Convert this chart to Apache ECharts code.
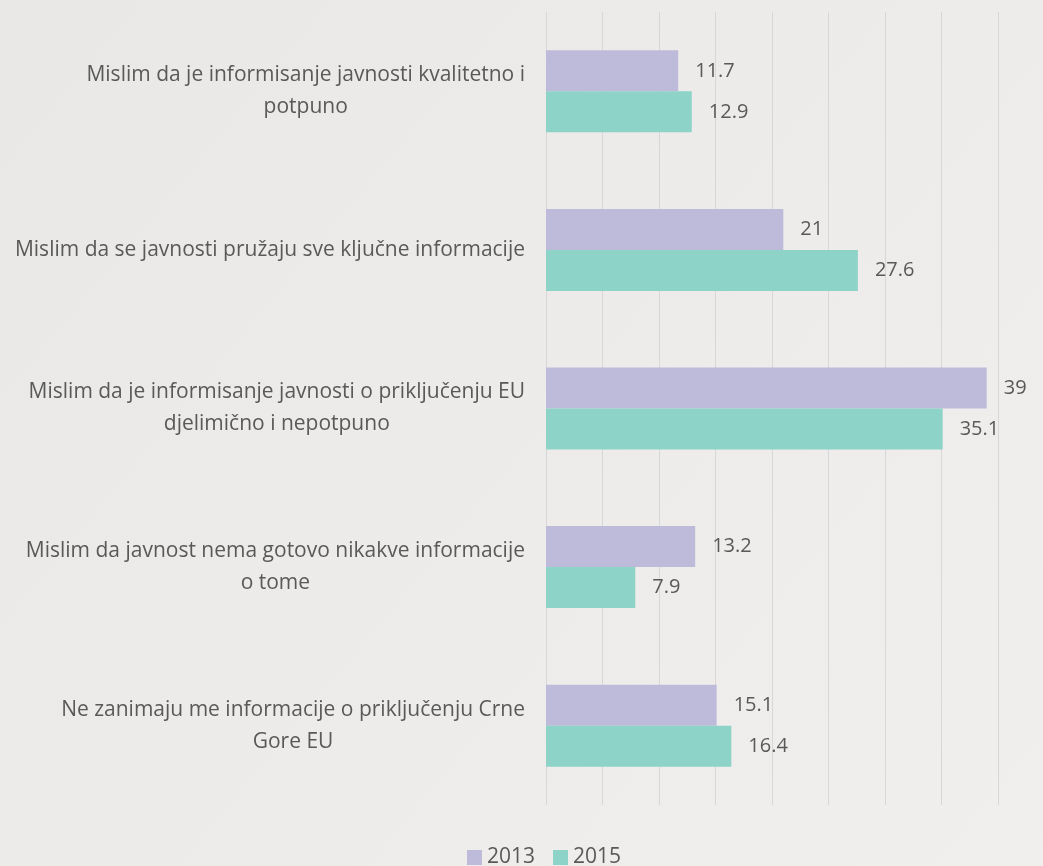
<!DOCTYPE html>
<html>
<head>
<meta charset="utf-8">
<script src="https://cdn.jsdelivr.net/npm/echarts@6/dist/echarts.min.js"></script>
<style>
  html, body { margin: 0; padding: 0; }
  #chart { width: 1043px; height: 866px; }
</style>
</head>
<body>
<div id="chart"></div>
<script>
var categories = [
  'Mislim da je informisanje javnosti kvalitetno i\npotpuno',
  'Mislim da se javnosti pružaju sve ključne informacije',
  'Mislim da je informisanje javnosti o priključenju EU\ndjelimično i nepotpuno',
  'Mislim da javnost nema gotovo nikakve informacije\no tome',
  'Ne zanimaju me informacije o priključenju Crne\nGore EU'
];
var values2013 = [11.7, 21, 39, 13.2, 15.1];
var values2015 = [12.9, 27.6, 35.1, 7.9, 16.4];

var textColor = '#595959';
var fontName = 'Open Sans';

var chart = echarts.init(document.getElementById('chart'));

var option = {
  backgroundColor: {
    type: 'linear', x: 0, y: 0, x2: 1, y2: 1,
    colorStops: [
      { offset: 0, color: '#e9e8e7' },
      { offset: 1, color: '#f0efee' }
    ]
  },
  animation: false,
  textStyle: { fontFamily: fontName },
  grid: { left: 546, right: 45, top: 12, bottom: 61 },
  legend: {
    top: 842,
    left: 462,
    itemWidth: 15,
    itemHeight: 15,
    itemGap: 18,
    icon: 'rect',
    textStyle: { color: textColor, fontSize: 21, fontFamily: fontName },
    data: ['2013', '2015']
  },
  xAxis: {
    type: 'value',
    min: 0,
    max: 40,
    interval: 5,
    axisLabel: { show: false },
    axisLine: { show: false },
    axisTick: { show: false },
    splitLine: { lineStyle: { color: '#d7d7d7', width: 1 } }
  },
  yAxis: {
    type: 'category',
    inverse: true,
    data: categories,
    axisLine: { show: false },
    axisTick: { show: false },
    axisLabel: {
      margin: 21,
      align: 'right',
      color: textColor,
      fontSize: 21,
      fontFamily: fontName,
      lineHeight: 32,
      formatter: function (v) {
        return v.split('\n').map(function (l) { return '{c|' + l + '}'; }).join('\n');
      },
      rich: {
        c: { align: 'center', color: textColor, fontSize: 21, fontFamily: fontName, lineHeight: 32 }
      }
    }
  },
  series: [
    {
      name: '2013',
      type: 'bar',
      data: values2013,
      barWidth: 41,
      barGap: '0%',
      itemStyle: { color: '#bebada' },
      label: { show: true, position: 'right', distance: 17, color: textColor, fontSize: 20, fontFamily: fontName }
    },
    {
      name: '2015',
      type: 'bar',
      data: values2015,
      barWidth: 41,
      barGap: '0%',
      itemStyle: { color: '#8dd3c7' },
      label: { show: true, position: 'right', distance: 17, color: textColor, fontSize: 20, fontFamily: fontName }
    }
  ]
};

chart.setOption(option);
</script>
</body>
</html>
